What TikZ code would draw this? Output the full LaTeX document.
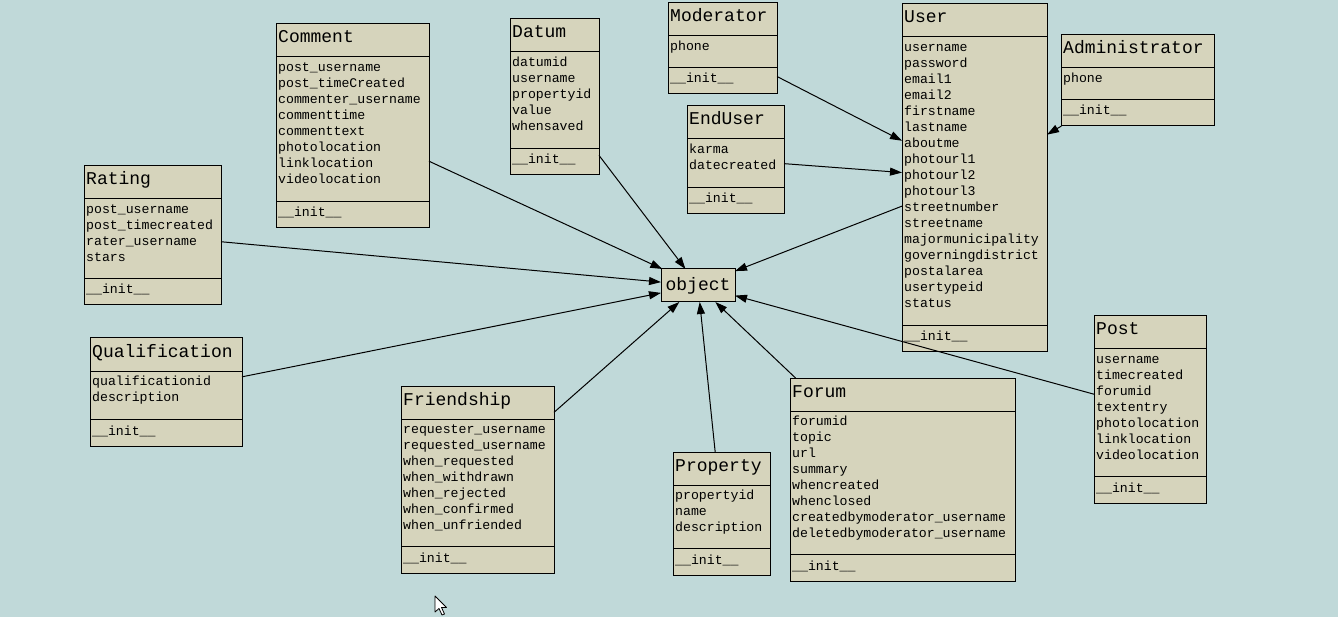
\documentclass[tikz,border=0pt]{standalone}
\usepackage{fontspec}
\setmonofont{Liberation Mono}
\usetikzlibrary{arrows.meta}
\definecolor{canvas}{RGB}{192,217,217}
\definecolor{classfill}{RGB}{214,212,188}

\tikzset{
  classbox/.style={draw=black, fill=classfill, line width=1pt, rectangle,
    inner sep=0pt, outer sep=0pt},
  boxline/.style={draw=black, line width=1pt},
  titletext/.style={inner sep=0pt, font=\ttfamily\fontsize{18}{20}\selectfont},
  attrtext/.style={inner sep=0pt, font=\ttfamily\fontsize{13.2}{16}\selectfont},
  inherit/.style={draw=black, line width=1pt,
    -{Triangle[length=12pt,width=8pt]}},
}

% #1 name, #2 left, #3 top, #4 right, #5 bottom, #6 class name, #7 attributes
\newcommand{\umlclass}[7]{%
  \node[classbox, minimum width={#4-#2}, minimum height={#5-#3},
        anchor=north west] (#1) at (#2,#3) {};
  \draw[boxline] (#2,#3+33) -- (#4,#3+33);
  \draw[boxline] (#2,#5-26.5) -- (#4,#5-26.5);
  \node[titletext, anchor=base west] (#1-title) at (#2+2,#3+19) {#6};
  \foreach \attr [count=\i from 0] in {#7}
    \node[attrtext, anchor=base west] (#1-attr\i) at (#2+2,#3+47.5+16*\i) {\attr};
  \node[attrtext, anchor=base west] (#1-init) at (#2+2,#5-11) {\_\_init\_\_};
}

\begin{document}
\begin{tikzpicture}[x=1pt,y=-1pt]
  \fill[canvas] (0,0) rectangle (1338,617);
  \useasboundingbox (0,0) rectangle (1338,617);

  \umlclass{comment}{276}{24}{429}{228}{Comment}{post\_username, post\_timeCreated,
    commenter\_username, commenttime, commenttext, photolocation, linklocation, videolocation}
  \umlclass{datum}{510}{19}{599}{175}{Datum}{datumid, username, propertyid, value, whensaved}
  \umlclass{moderator}{668}{3}{777}{94}{Moderator}{phone}
  \umlclass{enduser}{687}{106}{784}{214}{EndUser}{karma, datecreated}
  \umlclass{user}{902}{4}{1047}{352}{User}{username, password, email1, email2,
    firstname, lastname, aboutme, photourl1, photourl2, photourl3, streetnumber,
    streetname, majormunicipality, governingdistrict, postalarea, usertypeid, status}
  \umlclass{administrator}{1061}{35}{1214}{126}{Administrator}{phone}
  \umlclass{rating}{84}{166}{221}{305}{Rating}{post\_username, post\_timecreated,
    rater\_username, stars}
  \umlclass{qualification}{90}{338}{242}{446}{Qualification}{qualificationid, description}
  \umlclass{friendship}{401}{386}{554}{573}{Friendship}{requester\_username,
    requested\_username, when\_requested, when\_withdrawn, when\_rejected,
    when\_confirmed, when\_unfriended}
  \umlclass{property}{673}{452}{770}{575}{Property}{propertyid, name, description}
  \umlclass{forum}{790}{378}{1015}{581}{Forum}{forumid, topic, url, summary,
    whencreated, whenclosed, createdbymoderator\_username, deletedbymoderator\_username}
  \umlclass{post}{1094}{316}{1206}{503}{Post}{username, timecreated, forumid,
    textentry, photolocation, linklocation, videolocation}

  % base class
  \node[classbox, minimum width=74, minimum height=33, anchor=north west]
    (object) at (661,269) {};
  \node[titletext] (object-title) at (object.center) {object};

  % inheritance arrows
  \foreach \sub in {comment, datum, rating, qualification, friendship,
                    property, forum, post, user}
    \draw[inherit] (\sub) -- (object);
  \foreach \sub in {moderator, enduser, administrator}
    \draw[inherit] (\sub) -- (user);

  % mouse pointer
  \draw[fill=white, draw=black, line width=0.8pt, line join=round]
    (435,596) -- (435,612) -- (439,608.5) -- (442,615) -- (444.5,614)
    -- (441.5,607.5) -- (446.5,607.5) -- cycle;
\end{tikzpicture}
\end{document}
